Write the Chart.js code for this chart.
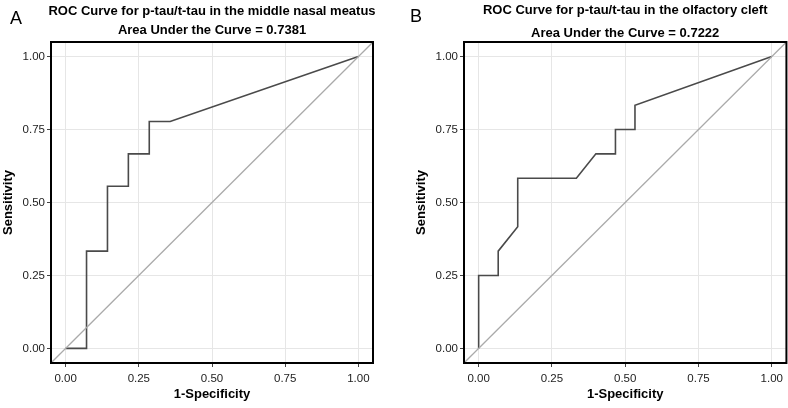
<!DOCTYPE html>
<html>
<head>
<meta charset="utf-8">
<script src="https://cdn.jsdelivr.net/npm/chart.js@4"></script>
<style>
  body { margin: 0; background: #fff; }
  .panel { position: absolute; top: 0; width: 394px; height: 408px; }
</style>
</head>
<body>
<div class="panel" style="left:0"><canvas id="rocA"></canvas></div>
<div class="panel" style="left:394px"><canvas id="rocB"></canvas></div>
<script>
// data
const fprA = [0, 0.0714, 0.0714, 0.1429, 0.1429, 0.2143, 0.2143, 0.2857, 0.2857, 0.3571, 1];
const tprA = [0, 0, 0.3333, 0.3333, 0.5556, 0.5556, 0.6667, 0.6667, 0.7778, 0.7778, 1];
const fprB = [0, 0, 0.0667, 0.0667, 0.1333, 0.1333, 0.3333, 0.4, 0.4667, 0.4667, 0.5333, 0.5333, 1];
const tprB = [0, 0.25, 0.25, 0.3333, 0.4167, 0.5833, 0.5833, 0.6667, 0.6667, 0.75, 0.75, 0.8333, 1];
const refLine = [-0.05, 1.05];
const tickVals = [0, 0.25, 0.5, 0.75, 1];

const FONT = "'Liberation Sans', Arial, Helvetica, sans-serif";
Chart.defaults.font.family = FONT;
Chart.defaults.color = "#222";

// black frame + panel letter + two title lines
const panelText = {
  id: "panelText",
  afterDraw(chart, args, opts) {
    const ctx = chart.ctx, a = chart.chartArea;
    ctx.save();
    ctx.strokeStyle = "#000";
    ctx.lineWidth = 2;
    ctx.strokeRect(a.left, a.top, a.right - a.left, a.bottom - a.top);
    ctx.fillStyle = "#000";
    ctx.font = "18px " + FONT;
    ctx.textAlign = "left";
    ctx.textBaseline = "alphabetic";
    ctx.fillText(opts.letter, opts.letterX, opts.letterY);
    ctx.font = "bold 13px " + FONT;
    ctx.textAlign = "center";
    const cx = (a.left + a.right) / 2;
    opts.lines.forEach((t, i) => ctx.fillText(t, cx, opts.baselines[i]));
    ctx.restore();
  }
};

function makeChart(id, fpr, tpr, opts) {
  const pts = fpr.map((x, i) => ({ x: x, y: tpr[i] }));
  const diag = refLine.map(v => ({ x: v, y: v }));
  const setTicks = s => { s.ticks = tickVals.map(v => ({ value: v })); };
  return new Chart(document.getElementById(id), {
    type: "scatter",
    data: {
      datasets: [
        { data: diag, showLine: true, borderColor: "#aaaaaa", borderWidth: 1.3, pointRadius: 0 },
        { data: pts, showLine: true, borderColor: "#4a4a4a", borderWidth: 1.6, pointRadius: 0 }
      ]
    },
    options: {
      responsive: false,
      animation: false,
      layout: { padding: { left: opts.padLeft, right: opts.padRight, top: 42, bottom: 0 } },
      plugins: {
        legend: { display: false },
        tooltip: { enabled: false },
        panelText: opts
      },
      scales: {
        x: {
          min: -0.05, max: 1.05,
          afterBuildTicks: setTicks,
          afterFit: s => { s.height = 45; },
          border: { display: false },
          grid: { color: "#e6e6e6", tickColor: "#444", tickLength: 4 },
          ticks: { font: { size: 11.5 }, color: "#222", padding: 5, maxRotation: 0,
                   callback: v => v.toFixed(2) },
          title: { display: true, text: "1-Specificity", color: "#000",
                   font: { size: 13, weight: "bold" }, padding: { top: 0, bottom: 6 } }
        },
        y: {
          min: -0.05, max: 1.05,
          afterBuildTicks: setTicks,
          afterFit: s => { s.width = 50; },
          border: { display: false },
          grid: { color: "#e6e6e6", tickColor: "#444", tickLength: 4 },
          ticks: { font: { size: 11.5 }, color: "#222", padding: 2,
                   callback: v => v.toFixed(2) },
          title: { display: true, text: "Sensitivity", color: "#000",
                   font: { size: 13, weight: "bold" }, padding: { top: 0, bottom: 0 } }
        }
      }
    },
    plugins: [panelText]
  });
}

const cA = document.getElementById("rocA"); cA.width = 394; cA.height = 408;
const cB = document.getElementById("rocB"); cB.width = 394; cB.height = 408;

makeChart("rocA", fprA, tprA, {
  padLeft: 1, padRight: 21, letter: "A", letterX: 10, letterY: 23.5,
  lines: ["ROC Curve for p-tau/t-tau in the middle nasal meatus", "Area Under the Curve = 0.7381"],
  baselines: [15, 33.5]
});
makeChart("rocB", fprB, tprB, {
  padLeft: 20, padRight: 1, letter: "B", letterX: 16, letterY: 22,
  lines: ["ROC Curve for p-tau/t-tau in the olfactory cleft", "Area Under the Curve = 0.7222"],
  baselines: [14, 37]
});
</script>
</body>
</html>
